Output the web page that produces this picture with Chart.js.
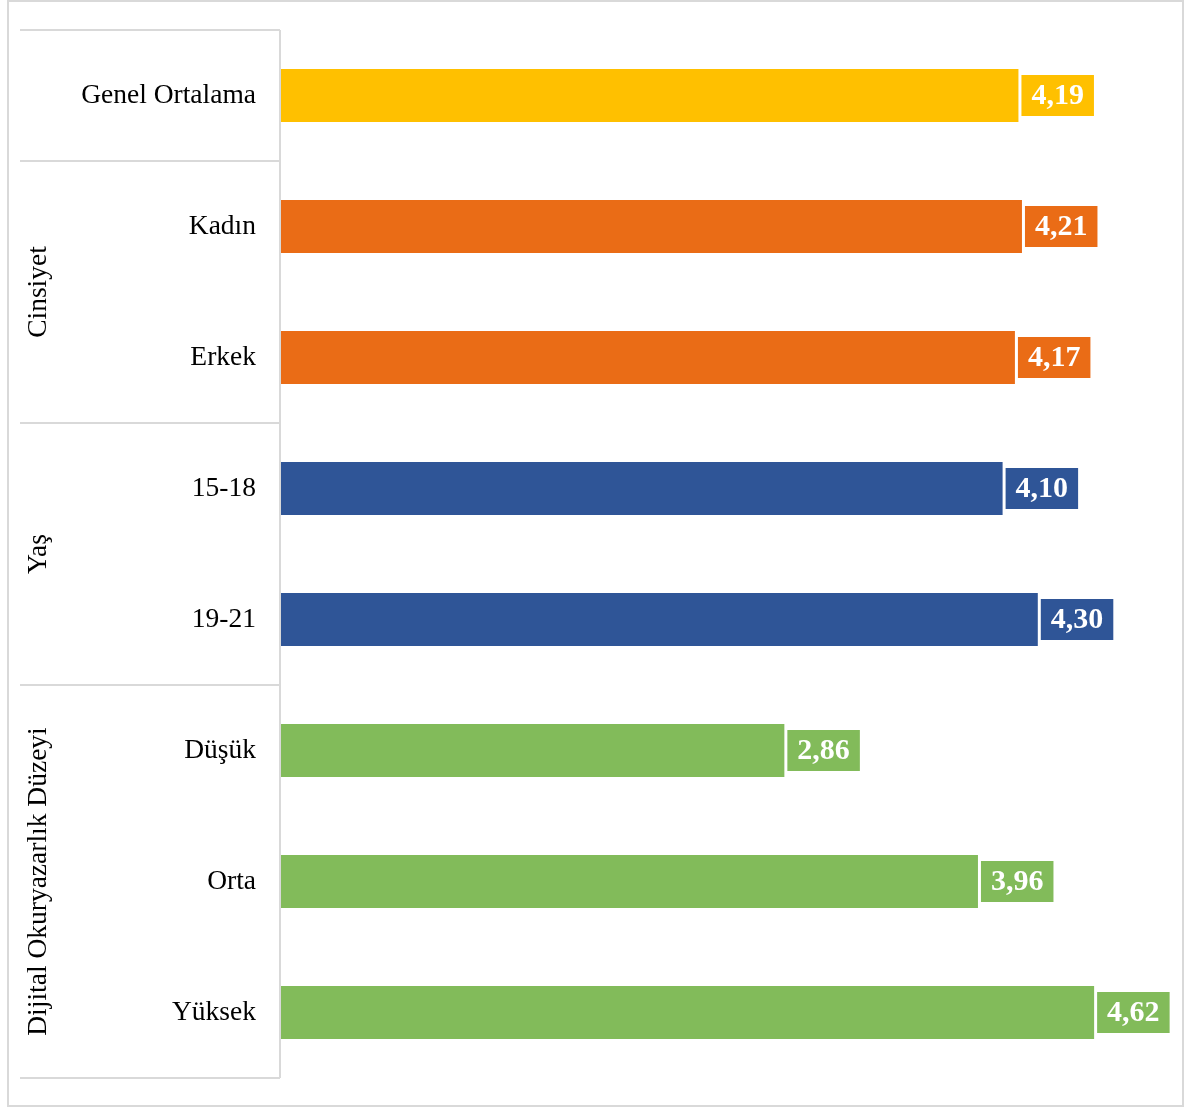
<!DOCTYPE html>
<html>
<head>
<meta charset="utf-8">
<script src="https://cdn.jsdelivr.net/npm/chart.js@4.4.1/dist/chart.umd.min.js"></script>
<style>
    body { margin: 0; background: #fff; }
    canvas { display: block; }
</style>
</head>
<body>
<canvas id="myChart" width="1184" height="1108"></canvas>
<script>
    // categories, values and groups
    const categories = ['Genel Ortalama', 'Kadın', 'Erkek', '15-18', '19-21', 'Düşük', 'Orta', 'Yüksek'];
    const values = [4.19, 4.21, 4.17, 4.10, 4.30, 2.86, 3.96, 4.62];
    const groupNames = ['', 'Cinsiyet', 'Yaş', 'Dijital Okuryazarlık Düzeyi'];
    const groupSizes = [1, 2, 2, 3];
    const groupColors = ['#FFC000', '#EA6C16', '#2F5597', '#82BB5A'];

    const fontFamily = '"Liberation Serif", "Times New Roman", serif';

    // one colour per bar, from its group
    const barColors = [];
    groupSizes.forEach(function(size, g) {
        for (let i = 0; i < size; i++) barColors.push(groupColors[g]);
    });

    function formatValue(v) {
        return v.toFixed(2).replace('.', ',');
    }

    const framePlugin = {
        id: 'frame',
        afterDraw: function(chart) {
            const ctx = chart.ctx;
            const area = chart.chartArea;
            const yScale = chart.scales.y;
            ctx.save();

            // outer border
            ctx.strokeStyle = '#d9d9d9';
            ctx.lineWidth = 2;
            ctx.strokeRect(8, 1, 1175, 1105);

            // vertical line at the axis
            ctx.beginPath();
            ctx.moveTo(area.left - 1, area.top);
            ctx.lineTo(area.left - 1, area.bottom);
            ctx.stroke();

            // group separators and group titles
            const left = 20;
            let start = 0;
            const bounds = [area.top];
            groupSizes.forEach(function(size) {
                const last = start + size - 1;
                let edge;
                if (last + 1 < categories.length) {
                    edge = (yScale.getPixelForValue(last) + yScale.getPixelForValue(last + 1)) / 2;
                } else {
                    edge = area.bottom;
                }
                bounds.push(edge);
                start += size;
            });
            bounds.forEach(function(b) {
                ctx.beginPath();
                ctx.moveTo(left, Math.round(b));
                ctx.lineTo(area.left - 1, Math.round(b));
                ctx.stroke();
            });

            ctx.fillStyle = '#000';
            ctx.font = '27.5px ' + fontFamily;
            ctx.textAlign = 'center';
            ctx.textBaseline = 'middle';
            groupNames.forEach(function(name, g) {
                if (!name) return;
                const mid = (bounds[g] + bounds[g + 1]) / 2;
                ctx.save();
                ctx.translate(39, mid);
                ctx.rotate(-Math.PI / 2);
                ctx.fillText(name, 0, 0);
                ctx.restore();
            });
            ctx.restore();
        },
        afterDatasetsDraw: function(chart) {
            // value labels in a coloured box after each bar
            const ctx = chart.ctx;
            const meta = chart.getDatasetMeta(0);
            ctx.save();
            ctx.font = 'bold 30px ' + fontFamily;
            ctx.textAlign = 'center';
            ctx.textBaseline = 'middle';
            meta.data.forEach(function(bar, i) {
                const text = formatValue(values[i]);
                const w = ctx.measureText(text).width + 20;
                const h = 41;
                const x = bar.x + 3;
                ctx.fillStyle = barColors[i];
                ctx.fillRect(x, bar.y - h / 2, w, h);
                ctx.fillStyle = '#fff';
                ctx.fillText(text, x + w / 2, bar.y + 1);
            });
            ctx.restore();
        }
    };

    const ctx = document.getElementById('myChart').getContext('2d');
    const myChart = new Chart(ctx, {
        type: 'bar',
        data: {
            labels: categories,
            datasets: [{
                data: values,
                backgroundColor: barColors,
                categoryPercentage: 1,
                barPercentage: 0.405
            }]
        },
        options: {
            indexAxis: 'y',
            responsive: false,
            animation: false,
            layout: {
                padding: { left: 0, right: 23, top: 30, bottom: 30 }
            },
            scales: {
                x: {
                    display: false,
                    min: 0,
                    max: 5
                },
                y: {
                    grid: { display: false },
                    border: { display: false },
                    ticks: {
                        color: '#000',
                        padding: 17,
                        font: { family: fontFamily, size: 27.5 }
                    },
                    afterFit: function(scale) {
                        scale.width = 281;
                        scale.paddingTop = 0;
                        scale.paddingBottom = 0;
                    }
                }
            },
            plugins: {
                legend: { display: false },
                tooltip: { enabled: false }
            }
        },
        plugins: [framePlugin]
    });
</script>
</body>
</html>
